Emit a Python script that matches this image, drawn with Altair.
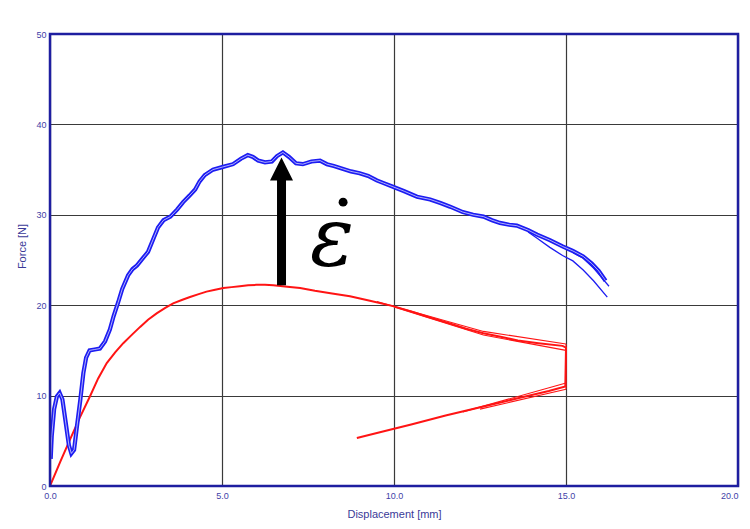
import altair as alt
import pandas as pd

# ---- data ----
blue_x = [0.02, 0.05, 0.12, 0.2, 0.28, 0.36, 0.45, 0.55, 0.62, 0.7, 0.78, 0.88, 0.97, 1.05, 1.15,
          1.3, 1.45, 1.6, 1.74, 1.85, 1.98, 2.1, 2.27, 2.4, 2.53, 2.7, 2.85, 3.0, 3.14, 3.3, 3.5,
          3.7, 3.87, 4.05, 4.22, 4.35, 4.5, 4.74, 5.03, 5.32, 5.55, 5.75, 5.9, 6.05, 6.25, 6.45,
          6.6, 6.77, 6.95, 7.15, 7.35, 7.6, 7.85, 8.05, 8.25, 8.5, 8.75, 9.0, 9.25, 9.5, 9.7,
          9.97, 10.3, 10.67, 11.05, 11.35, 11.63, 12.0, 12.3, 12.6, 12.85, 13.08, 13.35, 13.57,
          13.9, 14.16, 14.53, 14.9, 15.2, 15.5, 15.75, 15.95, 16.15]
blue_y = [3.0, 5.5, 8.5, 9.9, 10.3, 9.6, 7.2, 4.5, 3.6, 4.0, 6.5, 9.5, 12.5, 14.2, 15.0,
          15.1, 15.2, 16.0, 17.3, 18.8, 20.3, 21.8, 23.3, 24.0, 24.4, 25.2, 25.9, 27.3, 28.6, 29.4, 29.8,
          30.6, 31.4, 32.1, 32.8, 33.7, 34.4, 35.0, 35.3, 35.6, 36.2, 36.6, 36.4, 36.0, 35.8, 35.9,
          36.5, 36.9, 36.4, 35.7, 35.6, 35.9, 36.0, 35.6, 35.4, 35.1, 34.8, 34.6, 34.3, 33.8, 33.5,
          33.1, 32.6, 32.0, 31.7, 31.3, 30.9, 30.3, 30.0, 29.8, 29.4, 29.1, 28.9, 28.8,
          28.3, 27.8, 27.2, 26.5, 26.0, 25.4, 24.6, 23.8, 22.7]

blue_low_x = [13.9, 14.16, 14.53, 14.9, 15.2, 15.5, 15.8, 16.2]
blue_low_y = [28.1, 27.4, 26.4, 25.5, 24.9, 23.9, 22.7, 20.9]
blue_mid_x = [15.2, 15.5, 15.8, 16.05, 16.25]
blue_mid_y = [25.8, 25.2, 24.1, 23.0, 22.1]

red_x = [0.0, 0.3, 0.6, 0.87, 1.16, 1.4, 1.65, 1.9, 2.13, 2.4, 2.62, 2.85, 3.1, 3.35, 3.58, 3.85,
         4.07, 4.3, 4.55, 4.8, 5.04, 5.28, 5.52, 5.76, 6.0, 6.25, 6.49, 6.9, 7.27, 7.7, 8.2, 8.72,
         9.3, 9.97, 10.5, 11.0, 11.6, 12.1, 12.6, 13.1, 13.6, 14.2, 14.9, 15.0,
         14.98, 14.5, 13.6, 12.6, 11.5, 10.5, 9.97, 8.92]
red_y = [0.0, 2.7, 5.3, 7.6, 9.9, 11.9, 13.6, 14.8, 15.8, 16.8, 17.6, 18.4, 19.1, 19.7, 20.2, 20.6,
         20.9, 21.2, 21.5, 21.7, 21.9, 22.0, 22.1, 22.2, 22.25, 22.25, 22.2, 22.05, 21.9, 21.6, 21.3, 21.0,
         20.5, 19.9, 19.3, 18.7, 18.0, 17.4, 16.9, 16.5, 16.1, 15.8, 15.5, 15.3,
         11.0, 10.5, 9.7, 8.8, 7.8, 6.8, 6.3, 5.3]

red_extra = {
    "r1": ([9.5, 12.6, 15.0], [20.4, 17.1, 15.7]),
    "r2": ([10.0, 12.6, 15.0], [19.8, 16.7, 15.0]),
    "r3": ([12.0, 15.0], [8.2, 11.4]),
    "r4": ([12.5, 15.0], [8.5, 10.7]),
    "r5": ([15.0, 15.0], [15.7, 10.7]),
}

x_ticks = [0, 5, 10, 15, 20]
y_ticks = [0, 10, 20, 30, 40, 50]

arrow_x = 6.73
arrow_y0, arrow_y1 = 22.2, 34.2
arrow_head_y = 35.07
eps_x, eps_y = 8.2, 24.4
dot_x, dot_y = 8.52, 31.4


def frame(xs, ys, sid):
    return pd.DataFrame({"x": xs, "y": ys, "s": sid, "i": list(range(len(xs)))})


blue_main = frame(blue_x, blue_y, "b0")
blue_extra = pd.concat([frame(blue_low_x, blue_low_y, "b1"), frame(blue_mid_x, blue_mid_y, "b2")])
red_main = frame(red_x, red_y, "r0")
red_ex = pd.concat([frame(v[0], v[1], k) for k, v in red_extra.items()])

label_color = "#3f3fa8"
axis_x = alt.Axis(values=x_ticks, format=".1f", grid=True, gridColor="#3a3a3a", gridWidth=1.2,
                  ticks=False, domain=False, labelColor=label_color, labelFontSize=9,
                  labelFont="Liberation Sans", labelPadding=5, labelFlush=False,
                  labelAlign=alt.ExprRef(expr="datum.value == 20 ? 'right' : 'center'"),
                  title="Displacement [mm]",
                  titleColor="#3a3a98", titleFont="Liberation Sans", titleFontSize=11,
                  titleFontWeight="normal", titleY=28, titleBaseline="middle")
axis_y = alt.Axis(values=y_ticks, format="d", grid=True, gridColor="#3a3a3a", gridWidth=1.2,
                  ticks=False, domain=False, labelColor=label_color, labelFontSize=9,
                  labelFont="Liberation Sans", labelPadding=4, labelFlush=False,
                  title="Force [N]",
                  titleColor="#3a3a98", titleFont="Liberation Sans", titleFontSize=11,
                  titleFontWeight="normal", titleX=-28, titleY=212, titleAngle=-90,
                  titleAlign="center", titleBaseline="middle")

X = alt.X("x:Q", scale=alt.Scale(domain=[0, 20], nice=False, zero=False), axis=axis_x)
Y = alt.Y("y:Q", scale=alt.Scale(domain=[0, 50], nice=False, zero=False), axis=axis_y)

blue = "#1c1cf2"
red = "#ff1414"

l_blue = alt.Chart(blue_main).mark_line(color=blue, strokeWidth=4.2, clip=True).encode(
    x=X, y=Y, order="i:Q")
l_blue_in = alt.Chart(blue_main).mark_line(color="white", strokeWidth=1.0, opacity=0.65, clip=True).encode(
    x=X, y=Y, order="i:Q")
l_blue_ex = alt.Chart(blue_extra).mark_line(color=blue, strokeWidth=1.3, clip=True).encode(
    x=X, y=Y, detail="s:N", order="i:Q")
l_red = alt.Chart(red_main).mark_line(color=red, strokeWidth=2.0, clip=True).encode(
    x=X, y=Y, order="i:Q")
l_red_ex = alt.Chart(red_ex).mark_line(color=red, strokeWidth=1.1, clip=True).encode(
    x=X, y=Y, detail="s:N", order="i:Q")

arrow_df = pd.DataFrame({"x": [arrow_x], "y": [arrow_y0], "y2": [arrow_y1]})
shaft = alt.Chart(arrow_df).mark_rule(color="black", strokeWidth=9).encode(
    x=X, y=Y, y2="y2:Q")
head = alt.Chart(pd.DataFrame({"x": [arrow_x], "y": [arrow_head_y]})).mark_point(
    shape="M0,-1L1,1L-1,1Z", size=529, filled=True, color="black", opacity=1).encode(x=X, y=Y)
eps = alt.Chart(pd.DataFrame({"x": [eps_x], "y": [eps_y], "t": ["ε"]})).mark_text(
    font="DejaVu Serif", fontStyle="italic", fontSize=82, align="center",
    baseline="alphabetic", color="black").encode(x=X, y=Y, text="t:N")
dot = alt.Chart(pd.DataFrame({"x": [dot_x], "y": [dot_y]})).mark_point(
    shape="circle", size=80, filled=True, color="black", opacity=1).encode(x=X, y=Y)

border = alt.Chart(pd.DataFrame({"k": [0]})).mark_rect(
    filled=False, stroke="#1e1ea0", strokeWidth=2.5).encode(
    x=alt.value(0), x2=alt.value(688), y=alt.value(0), y2=alt.value(452))

chart = alt.layer(l_red, l_red_ex, l_blue, l_blue_in, l_blue_ex, shaft, head, eps, dot, border).properties(
    width=688, height=452,
    autosize=alt.AutoSizeParams(type="none"),
    padding={"left": 42, "top": 26, "right": 4, "bottom": 35},
).configure_view(stroke=None).configure(background="white")

chart.save("out.html", embed_options={"renderer": "svg", "actions": False})
